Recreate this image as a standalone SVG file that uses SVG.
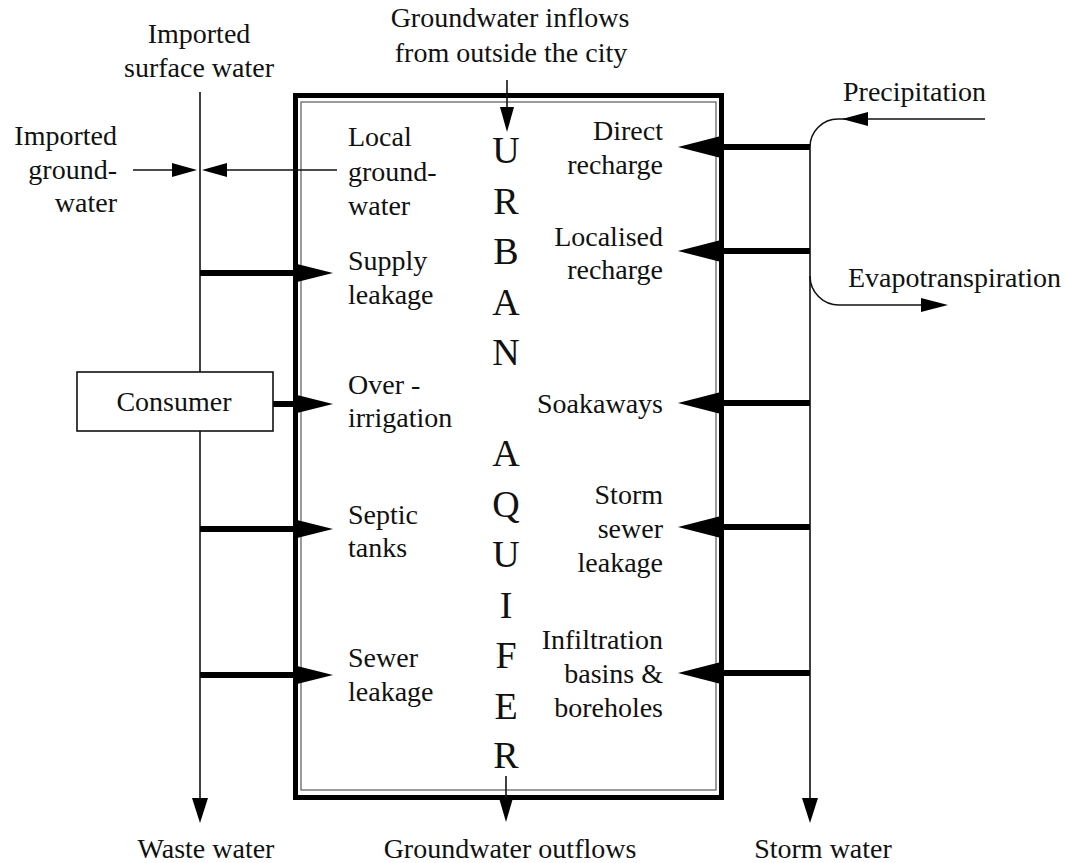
<svg xmlns="http://www.w3.org/2000/svg" width="1067" height="863" viewBox="0 0 1067 863">
<defs>
<style>
text{font-family:"Liberation Serif","DejaVu Serif","Noto Serif","Times New Roman",Times,serif;font-size:28px;fill:#111}
.r{text-anchor:end}
.m{text-anchor:middle}
.big{font-size:38px;text-anchor:middle}
.thin{stroke:#111;stroke-width:1.6;fill:none}
.thick{stroke:#000;stroke-width:6;fill:none}
.head{fill:#000}
</style>
</defs>
<rect width="1067" height="863" fill="#fff"/>
<g id="aquifer">
<rect x="295.5" y="95.5" width="426" height="702" fill="none" stroke="#000" stroke-width="5"/>
<rect x="301" y="102" width="415" height="688" fill="none" stroke="#666" stroke-width="1.3"/>
<text class="big" x="506" y="163">U</text>
<text class="big" x="506" y="213.5">R</text>
<text class="big" x="506" y="264">B</text>
<text class="big" x="506" y="314.5">A</text>
<text class="big" x="506" y="365">N</text>
<text class="big" x="506" y="466">A</text>
<text class="big" x="506" y="516.5">Q</text>
<text class="big" x="506" y="567">U</text>
<text class="big" x="506" y="617.5">I</text>
<text class="big" x="506" y="668">F</text>
<text class="big" x="506" y="718.5">E</text>
<text class="big" x="506" y="768">R</text>
</g>
<g id="connectors">
<line class="thin" x1="200" y1="92" x2="200" y2="800"/>
<polygon class="head" points="192,798 208,798 200,823"/>
<path class="thin" d="M810,800 L810,147 A28,28 0 0 1 838,119 L985,119"/>
<polygon class="head" points="842,119 868,112 868,126"/>
<path class="thin" d="M810,276 A29,29 0 0 0 839,305 L925,305"/>
<polygon class="head" points="948,305 921,298 921,312"/>
<polygon class="head" points="802,798 818,798 810,823"/>
<line class="thin" x1="133" y1="170" x2="175" y2="170"/>
<polygon class="head" points="197,170 172,163 172,177"/>
<line class="thin" x1="337" y1="170" x2="225" y2="170"/>
<polygon class="head" points="202,170 227,163 227,177"/>
<line class="thin" x1="507" y1="80" x2="507" y2="110"/>
<polygon class="head" points="500,107 514,107 507,132"/>
<line class="thin" x1="506" y1="776" x2="506" y2="800"/>
<polygon class="head" points="499,798 513,798 506,822"/>
<line class="thick" x1="200" y1="273" x2="296" y2="273"/>
<polygon class="head" points="293,263 333,273 293,283"/>
<line class="thick" x1="273" y1="404" x2="296" y2="404"/>
<polygon class="head" points="293,394 333,404 293,414"/>
<line class="thick" x1="200" y1="529" x2="296" y2="529"/>
<polygon class="head" points="293,519 333,529 293,539"/>
<line class="thick" x1="200" y1="675" x2="296" y2="675"/>
<polygon class="head" points="293,665 333,675 293,685"/>
<line class="thick" x1="810" y1="147" x2="718" y2="147"/>
<polygon class="head" points="721,136 678,147 721,158"/>
<line class="thick" x1="810" y1="251" x2="718" y2="251"/>
<polygon class="head" points="721,240 678,251 721,262"/>
<line class="thick" x1="810" y1="403" x2="718" y2="403"/>
<polygon class="head" points="721,392 678,403 721,414"/>
<line class="thick" x1="810" y1="527" x2="718" y2="527"/>
<polygon class="head" points="721,516 678,527 721,538"/>
<line class="thick" x1="810" y1="673" x2="718" y2="673"/>
<polygon class="head" points="721,662 678,673 721,684"/>
</g>
<g id="consumer">
<rect x="77" y="372" width="196" height="59" fill="#fff" stroke="#111" stroke-width="1.6"/>
<text class="m" x="174" y="411">Consumer</text>
</g>
<g id="labels-outside">
<text class="m" x="199" y="43">Imported</text>
<text class="m" x="199" y="77">surface water</text>
<text class="m" x="510" y="27">Groundwater inflows</text>
<text class="m" x="511" y="62">from outside the city</text>
<text class="r" x="117" y="145">Imported</text>
<text class="r" x="117" y="179">ground-</text>
<text class="r" x="117" y="212">water</text>
<text x="843" y="101">Precipitation</text>
<text x="848" y="287">Evapotranspiration</text>
<text class="m" x="206" y="858">Waste water</text>
<text class="m" x="510" y="858">Groundwater outflows</text>
<text class="m" x="823" y="858">Storm water</text>
</g>
<g id="labels-left">
<text x="348" y="146">Local</text>
<text x="348" y="181">ground-</text>
<text x="348" y="215">water</text>
<text x="348" y="270">Supply</text>
<text x="348" y="304">leakage</text>
<text x="348" y="394">Over -</text>
<text x="348" y="427">irrigation</text>
<text x="348" y="524">Septic</text>
<text x="348" y="557">tanks</text>
<text x="348" y="667">Sewer</text>
<text x="348" y="701">leakage</text>
</g>
<g id="labels-right">
<text class="r" x="663" y="140">Direct</text>
<text class="r" x="663" y="174">recharge</text>
<text class="r" x="663" y="246">Localised</text>
<text class="r" x="663" y="279">recharge</text>
<text class="r" x="663" y="413">Soakaways</text>
<text class="r" x="663" y="504">Storm</text>
<text class="r" x="663" y="538">sewer</text>
<text class="r" x="663" y="572">leakage</text>
<text class="r" x="663" y="649">Infiltration</text>
<text class="r" x="663" y="683">basins &amp;</text>
<text class="r" x="663" y="717">boreholes</text>
</g>
</svg>
